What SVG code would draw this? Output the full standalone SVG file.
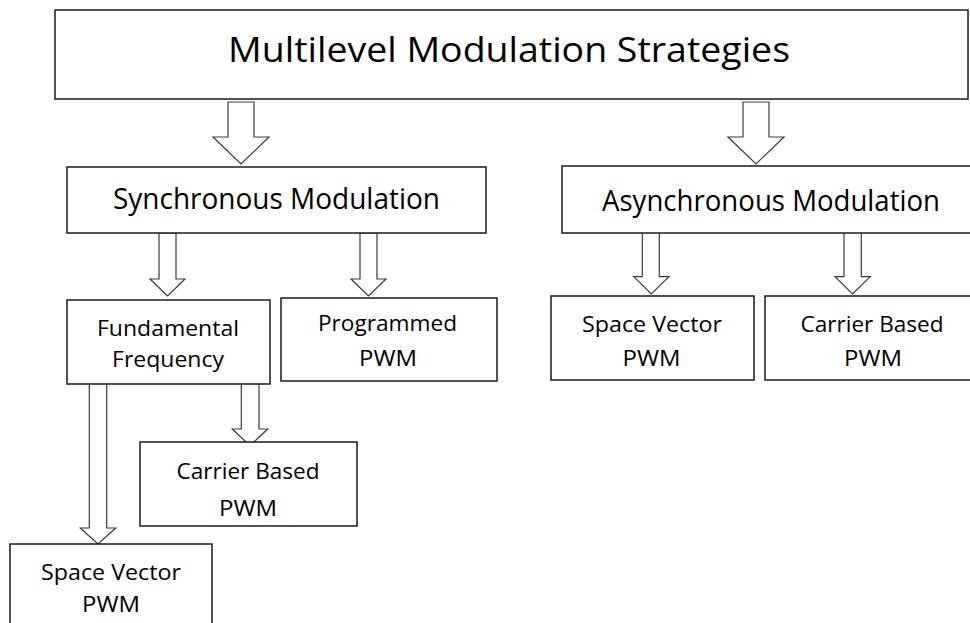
<svg xmlns="http://www.w3.org/2000/svg" width="970" height="623" viewBox="0 0 970 623">
<style>
.box{fill:#fff;stroke:#1a1a1a;stroke-width:1.5}
.arr{fill:#fff;stroke:#3a3a3a;stroke-width:1.2;stroke-linejoin:miter}
text{font-family:"Open Sans","Noto Sans","Liberation Sans",sans-serif;fill:#000;text-anchor:middle}
.big{font-size:35px}
.mid{font-size:29px}
.sm{font-size:22px}
</style>
<rect width="970" height="623" fill="#fff"/>
<g id="connectors">
<path class="arr" d="M228,102 H254 V137 H269 L241,164 L213,137 H228 Z"/>
<path class="arr" d="M743,102 H769 V137 H784 L756,164 L728,137 H743 Z"/>
<path class="arr" d="M159,233 H176 V279 H185 L167.5,296 L150,279 H159 Z"/>
<path class="arr" d="M360,233 H377 V279 H386 L368.5,296 L351,279 H360 Z"/>
<path class="arr" d="M89.3,383 H106.7 V528 H115.7 L98,544 L80.3,528 H89.3 Z"/>
<path class="arr" d="M241.3,383 H259 V429 H267.7 L250,445.7 L232.3,429 H241.3 Z"/>
<path class="arr" d="M642.3,232 H659.3 V276.7 H669 L651.3,294 L633.7,276.7 H642.3 Z"/>
<path class="arr" d="M844,232 H861.3 V276.7 H870.3 L852.5,294 L835,276.7 H844 Z"/>
</g>
<g id="n-top">
<rect class="box" x="55" y="10" width="913" height="89"/>
<text class="big" x="509" y="62" textLength="562" lengthAdjust="spacingAndGlyphs">Multilevel Modulation Strategies</text>
</g>
<g id="n-sync">
<rect class="box" x="67" y="167" width="419" height="66"/>
<text class="mid" x="276.5" y="209" textLength="327" lengthAdjust="spacingAndGlyphs">Synchronous Modulation</text>
</g>
<g id="n-async">
<rect class="box" x="562" y="166" width="420" height="67"/>
<text class="mid" x="771" y="211" textLength="338" lengthAdjust="spacingAndGlyphs">Asynchronous Modulation</text>
</g>
<g id="n-fund">
<rect class="box" x="67" y="300" width="203" height="84"/>
<text class="sm" x="168" y="335.5" textLength="142" lengthAdjust="spacingAndGlyphs">Fundamental</text>
<text class="sm" x="168" y="367" textLength="112" lengthAdjust="spacingAndGlyphs">Frequency</text>
</g>
<g id="n-prog">
<rect class="box" x="281" y="298" width="216" height="83"/>
<text class="sm" x="387.5" y="331" textLength="139" lengthAdjust="spacingAndGlyphs">Programmed</text>
<text class="sm" x="388" y="365.5" textLength="58" lengthAdjust="spacingAndGlyphs">PWM</text>
</g>
<g id="n-carrier1">
<rect class="box" x="140" y="442" width="217" height="84"/>
<text class="sm" x="248" y="478.5" textLength="143" lengthAdjust="spacingAndGlyphs">Carrier Based</text>
<text class="sm" x="248" y="515.5" textLength="58" lengthAdjust="spacingAndGlyphs">PWM</text>
</g>
<g id="n-svpwm1">
<rect class="box" x="10" y="544" width="202" height="90"/>
<text class="sm" x="111" y="580" textLength="140" lengthAdjust="spacingAndGlyphs">Space Vector</text>
<text class="sm" x="111" y="612" textLength="58" lengthAdjust="spacingAndGlyphs">PWM</text>
</g>
<g id="n-svpwm2">
<rect class="box" x="551" y="296" width="203" height="84"/>
<text class="sm" x="652" y="332.3" textLength="140" lengthAdjust="spacingAndGlyphs">Space Vector</text>
<text class="sm" x="651.5" y="365.5" textLength="58" lengthAdjust="spacingAndGlyphs">PWM</text>
</g>
<g id="n-carrier2">
<rect class="box" x="765" y="296" width="215" height="84"/>
<text class="sm" x="872" y="332.3" textLength="143" lengthAdjust="spacingAndGlyphs">Carrier Based</text>
<text class="sm" x="873" y="365.5" textLength="58" lengthAdjust="spacingAndGlyphs">PWM</text>
</g>
</svg>
